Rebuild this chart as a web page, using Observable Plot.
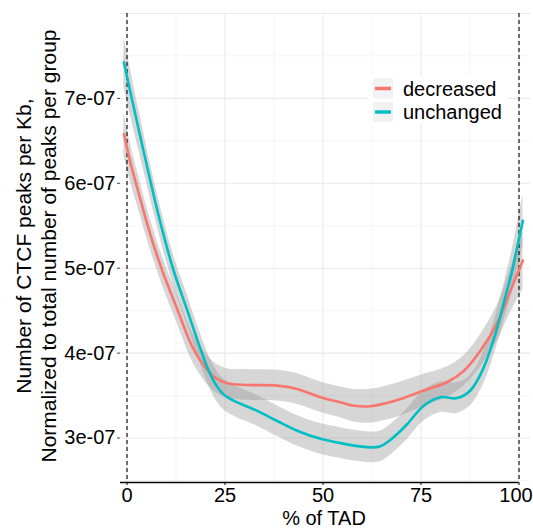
<!DOCTYPE html>
<html>
<head>
<meta charset="utf-8">
<script src="https://cdn.jsdelivr.net/npm/d3@7"></script>
<script src="https://cdn.jsdelivr.net/npm/@observablehq/plot@0.6"></script>
<style>
  html, body { margin: 0; padding: 0; background: #fff; }
  #chart svg { display: block; }
</style>
</head>
<body>
<div id="chart"></div>
<script>
// ---- data ----
const groups = ["decreased", "unchanged"];
const groupColors = ["#F8766D", "#00BFC4"];

const xDecreased = [-0.8, 1.0, 3.0, 5.6, 9.0, 12.8, 16.5, 19.5, 22.5, 25.6, 30.7, 38.3, 43.4, 49.4, 54.5, 58.0, 62.1, 66.0, 69.8, 75.7, 81.7, 85.9, 90.2, 94.4, 97.0, 99.0, 101.0];
const yDecreased = [6.58e-7, 6.22e-7, 5.88e-7, 5.45e-7, 4.97e-7, 4.52e-7, 4.09e-7, 3.86e-7, 3.71e-7, 3.645e-7, 3.625e-7, 3.617e-7, 3.578e-7, 3.48e-7, 3.42e-7, 3.38e-7, 3.375e-7, 3.41e-7, 3.46e-7, 3.56e-7, 3.66e-7, 3.79e-7, 4.03e-7, 4.35e-7, 4.64e-7, 4.87e-7, 5.09e-7];
const seDecreased = [2.5e-8, 2.2e-8, 2.0e-8, 1.8e-8, 1.7e-8, 1.7e-8, 1.7e-8, 1.7e-8, 1.7e-8, 1.7e-8, 1.8e-8, 1.8e-8, 1.8e-8, 1.8e-8, 1.8e-8, 1.9e-8, 2.0e-8, 2.0e-8, 2.0e-8, 1.9e-8, 1.8e-8, 1.8e-8, 1.9e-8, 2.1e-8, 2.4e-8, 2.9e-8, 3.4e-8];

const xUnchanged = [-0.8, 3.0, 6.8, 9.0, 11.9, 15.4, 18.5, 20.5, 22.5, 24.5, 27.2, 33.2, 38.3, 43.4, 49.4, 54.5, 58.0, 62.1, 64.5, 66.4, 69.0, 71.5, 75.7, 80.0, 84.2, 87.6, 91.0, 94.0, 96.5, 98.3, 99.9, 101.0];
const yUnchanged = [7.425e-7, 6.63e-7, 5.86e-7, 5.45e-7, 4.97e-7, 4.50e-7, 4.08e-7, 3.83e-7, 3.64e-7, 3.52e-7, 3.44e-7, 3.32e-7, 3.20e-7, 3.086e-7, 2.99e-7, 2.94e-7, 2.91e-7, 2.89e-7, 2.90e-7, 2.95e-7, 3.05e-7, 3.165e-7, 3.38e-7, 3.48e-7, 3.47e-7, 3.56e-7, 3.83e-7, 4.23e-7, 4.66e-7, 4.98e-7, 5.33e-7, 5.56e-7];
const seUnchanged = [3.0e-8, 2.4e-8, 2.0e-8, 1.9e-8, 1.8e-8, 1.8e-8, 1.8e-8, 1.8e-8, 1.8e-8, 1.8e-8, 1.8e-8, 1.8e-8, 1.8e-8, 1.8e-8, 1.8e-8, 1.8e-8, 1.8e-8, 1.8e-8, 1.8e-8, 1.8e-8, 1.8e-8, 1.8e-8, 1.8e-8, 1.8e-8, 1.8e-8, 1.8e-8, 1.9e-8, 2.0e-8, 2.2e-8, 2.5e-8, 2.8e-8, 3.0e-8];

const xTicks = [0, 25, 50, 75, 100];
const xMinorGrid = [12.5, 37.5, 62.5, 87.5];
const yTicks = [3e-7, 4e-7, 5e-7, 6e-7, 7e-7];
const yMajorGrid = [3e-7, 4e-7, 5e-7, 6e-7, 7e-7, 8e-7];
const yMinorGrid = [2.5e-7, 3.5e-7, 4.5e-7, 5.5e-7, 6.5e-7, 7.5e-7];
const tadBoundaries = [0, 100];

const xTitle = "% of TAD";
const yTitleLines = ["Number of CTCF peaks per Kb,", "Normalized to total number of peaks per group"];

// ---- build table ----
function rows(group, xs, ys, ses) {
  return xs.map((x, i) => ({group, x, y: ys[i], lo: ys[i] - ses[i], hi: ys[i] + ses[i]}));
}
const decreased = rows(groups[0], xDecreased, yDecreased, seDecreased);
const unchanged = rows(groups[1], xUnchanged, yUnchanged, seUnchanged);

const xDomain = [-1.66, 102.93];
const yDomain = [2.476e-7, 8.0e-7];

const sci = v => {
  const [m, e] = v.toExponential(0).split("e");
  const sign = e[0] === "-" ? "-" : "+";
  const digits = e.replace(/[+-]/, "").padStart(2, "0");
  return `${m}e${sign}${digits}`;
};

const font = "'Liberation Sans', Arial, Helvetica, sans-serif";
const lastTick = xTicks[xTicks.length - 1];

const chart = Plot.plot({
  width: 533,
  height: 529,
  marginLeft: 120,
  marginRight: 3,
  marginTop: 13,
  marginBottom: 47,
  x: {domain: xDomain},
  y: {domain: yDomain},
  style: {fontFamily: font, fontSize: "20px", color: "black", background: "white"},
  marks: [
    Plot.ruleX(xMinorGrid, {stroke: "#f0f0f0", strokeWidth: 0.7}),
    Plot.ruleY(yMinorGrid, {stroke: "#f0f0f0", strokeWidth: 0.7}),
    Plot.ruleX(xTicks, {stroke: "#e9e9e9", strokeWidth: 1.1}),
    Plot.ruleY(yMajorGrid, {stroke: "#e9e9e9", strokeWidth: 1.1}),
    Plot.areaY(decreased, {x: "x", y1: "lo", y2: "hi", fill: "#999999", fillOpacity: 0.4, curve: "catmull-rom"}),
    Plot.areaY(unchanged, {x: "x", y1: "lo", y2: "hi", fill: "#999999", fillOpacity: 0.4, curve: "catmull-rom"}),
    Plot.ruleX(tadBoundaries, {stroke: "black", strokeWidth: 1.1, strokeDasharray: "4,3"}),
    Plot.line(decreased, {x: "x", y: "y", stroke: groupColors[0], strokeWidth: 2.6, curve: "catmull-rom"}),
    Plot.line(unchanged, {x: "x", y: "y", stroke: groupColors[1], strokeWidth: 2.6, curve: "catmull-rom"}),
    Plot.ruleY([yDomain[0]], {x1: xDomain[0], x2: lastTick, stroke: "black", strokeWidth: 1.3}),
    Plot.axisX({ticks: xTicks, tickSize: 3, tickFormat: () => "", stroke: "black", label: null}),
    Plot.axisX({ticks: xTicks.slice(0, -1), tickSize: 0, tickPadding: 5, tickFormat: d3.format("d"), label: null, fontSize: 20}),
    Plot.axisX({ticks: [lastTick], tickSize: 0, tickPadding: 5, tickFormat: d3.format("d"), label: null, fontSize: 20, dx: -3}),
    Plot.axisY({ticks: yTicks, tickSize: 3, tickPadding: 2, tickFormat: sci, label: null, fontSize: 20, stroke: "#444"})
  ]
});

document.getElementById("chart").appendChild(chart);

// ---- titles and legend ----
const svg = d3.select(chart);
const fw = svg.append("g").attr("font-family", font).attr("fill", "black");

fw.append("text").attr("x", 324).attr("y", 524.5).attr("text-anchor", "middle")
  .attr("font-size", 20).text(xTitle);

const yLineX = [31, 55.5];
yTitleLines.forEach((t, i) => {
  fw.append("text").attr("transform", `translate(${yLineX[i]},246) rotate(-90)`)
    .attr("text-anchor", "middle").attr("font-size", 21).text(t);
});

const leg = svg.append("g").attr("font-family", font);
leg.append("rect").attr("x", 368).attr("y", 76).attr("width", 140).attr("height", 48).attr("fill", "white");
const legY = [88.5, 112];
groups.forEach((g, i) => {
  leg.append("rect").attr("x", 373).attr("y", legY[i] - 10).attr("width", 20).attr("height", 20).attr("fill", "#f2f2f2");
  leg.append("line").attr("x1", 375).attr("x2", 391).attr("y1", legY[i]).attr("y2", legY[i])
    .attr("stroke", groupColors[i]).attr("stroke-width", 3.5);
  leg.append("text").attr("x", 403).attr("y", legY[i]).attr("dy", "0.35em")
    .attr("text-anchor", "start").attr("font-size", 20).attr("fill", "black").text(g);
});
</script>
</body>
</html>
